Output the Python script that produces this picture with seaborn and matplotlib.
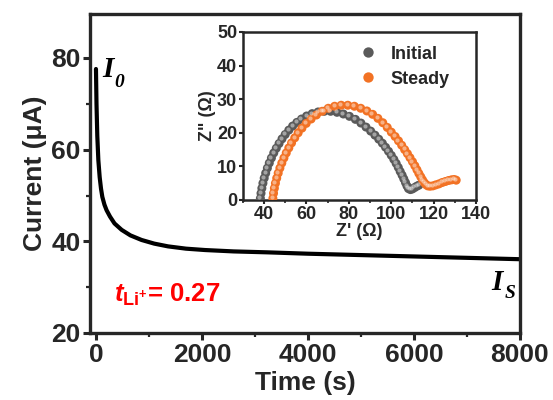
import matplotlib
matplotlib.use("Agg")
import matplotlib.pyplot as plt
import matplotlib.transforms as mtransforms
import seaborn as sns
import pandas as pd
from matplotlib.ticker import MultipleLocator

# ---- data ----
time_s = [0, 10, 25, 45, 70, 95, 120, 160, 200, 265, 350, 485, 650, 860, 1100,
          1360, 1700, 2060, 2600, 3230, 4000, 5000, 6000, 7000, 8000]
current_uA = [77.6, 70, 63, 57.7, 54, 51.5, 49.7, 48, 46.8, 45.4, 43.9, 42.5, 41.3,
              40.3, 39.5, 38.9, 38.4, 38.1, 37.8, 37.6, 37.3, 37.0, 36.7, 36.4, 36.1]

init_zre = [38.3, 38.6, 39.0, 39.5, 40.1, 40.8, 41.6, 42.5, 43.5, 44.6, 45.8, 47.1,
            48.5, 50.0, 51.7, 53.5, 55.5, 57.7, 60.1, 62.7, 65.5, 68.4, 71.4, 74.4,
            77.4, 80.3, 83.1, 85.7, 88.1, 90.3, 92.3, 94.1, 95.8, 97.3, 98.7, 100.0,
            101.2, 102.3, 103.3, 104.2, 105.1, 105.9, 106.7, 107.4, 108.1, 109.0,
            110.0, 111.0, 112.0, 113.0]
init_zim = [0.5, 2.0, 3.5, 5.0, 6.5, 8.0, 9.5, 11.0, 12.5, 14.0, 15.4, 16.8, 18.2,
            19.5, 20.8, 22.0, 23.1, 24.1, 25.0, 25.7, 26.2, 26.4, 26.4, 26.1, 25.6,
            24.9, 24.0, 22.9, 21.7, 20.5, 19.3, 18.1, 16.9, 15.7, 14.5, 13.3, 12.1,
            10.9, 9.7, 8.5, 7.4, 6.3, 5.2, 4.2, 3.4, 3.1, 3.3, 3.7, 4.1, 4.4]

steady_zre = [44.2, 44.5, 44.9, 45.4, 46.0, 46.7, 47.5, 48.4, 49.4, 50.5, 51.7, 53.0,
              54.5, 56.1, 57.9, 59.9, 62.2, 64.7, 67.4, 70.3, 73.3, 76.4, 79.5, 82.6,
              85.6, 88.5, 91.2, 93.7, 96.0, 98.1, 100.0, 101.8, 103.4, 104.9, 106.3,
              107.6, 108.8, 110.0, 111.1, 112.1, 113.0, 113.9, 114.7, 115.5, 116.3,
              117.2, 118.3, 119.6, 121.0, 122.5, 124.0, 125.5, 127.0, 128.4, 129.6,
              130.6]
steady_zim = [0.5, 2.0, 3.5, 5.0, 6.5, 8.0, 9.5, 11.0, 12.5, 14.0, 15.5, 17.0, 18.5,
              20.0, 21.4, 22.8, 24.1, 25.3, 26.4, 27.3, 27.9, 28.2, 28.2, 27.9, 27.3,
              26.5, 25.5, 24.3, 23.0, 21.6, 20.2, 18.9, 17.6, 16.3, 15.0, 13.8, 12.6,
              11.4, 10.2, 9.0, 7.9, 6.9, 6.0, 5.2, 4.6, 4.2, 4.1, 4.2, 4.5, 4.8, 5.2,
              5.5, 5.8, 6.0, 6.1, 5.9]

series_names = ["Initial", "Steady"]
series_colors = ["#5a5a5a", "#f27224"]

# ---- style ----
sns.set_style("ticks")
plt.rcParams["font.family"] = ["Liberation Sans", "DejaVu Sans"]
plt.rcParams["font.weight"] = "bold"
plt.rcParams["mathtext.fontset"] = "custom"
plt.rcParams["mathtext.it"] = "Liberation Sans:italic:bold"
plt.rcParams["mathtext.rm"] = "Liberation Sans:bold"
plt.rcParams["mathtext.bf"] = "Liberation Sans:bold"

fig = plt.figure(figsize=(5.53, 4.0), dpi=100)
ax = fig.add_axes([0.163, 0.1675, 0.777, 0.7975])

df_main = pd.DataFrame({"t": time_s, "I": current_uA})
sns.lineplot(data=df_main, x="t", y="I", ax=ax, color="black", lw=3.0)

ax.set_xlim(-110, 8000)
ax.set_ylim(20, 89.6)
ax.xaxis.set_major_locator(MultipleLocator(2000))
ax.xaxis.set_minor_locator(MultipleLocator(1000))
ax.yaxis.set_minor_locator(MultipleLocator(10))
ax.set_yticks([20, 40, 60, 80])
for s in ax.spines.values():
    s.set_linewidth(2.4)
    s.set_visible(True)
ax.tick_params(which="major", direction="out", length=5, width=2.2, labelsize=19, pad=2)
ax.tick_params(which="minor", direction="out", length=3, width=1.6)
for lab in ax.get_xticklabels() + ax.get_yticklabels():
    lab.set_fontweight("bold")
ax.set_xlabel("Time (s)", fontsize=19, fontweight="bold", labelpad=3)
ax.set_ylabel("Current (μA)", fontsize=19, fontweight="bold", labelpad=3)

serif = dict(family=["Liberation Serif", "DejaVu Serif"], style="italic",
             fontweight="bold", color="black")
ax.annotate("I", xy=(120, 77.4), fontsize=21, va="center", ha="left", **serif)
ax.annotate("0", xy=(120, 77.4), xytext=(9, -9), textcoords="offset points",
            fontsize=14, va="center", ha="left", **serif)
ax.annotate("I", xy=(7470, 31.0), fontsize=21, va="center", ha="left", **serif)
ax.annotate("S", xy=(7470, 31.0), xytext=(9, -8), textcoords="offset points",
            fontsize=14, va="center", ha="left", **serif)

ax.text(340, 28.3, r"$t_{\mathrm{Li^{+}}}$= 0.27", fontsize=18.5, color="#ff0000",
        fontweight="bold", va="center", ha="left")

# ---- inset ----
axin = fig.add_axes([0.439, 0.5, 0.422, 0.42])
df_eis = pd.concat([
    pd.DataFrame({"Zre": init_zre, "Zim": init_zim, "state": series_names[0]}),
    pd.DataFrame({"Zre": steady_zre, "Zim": steady_zim, "state": series_names[1]}),
])
sns.scatterplot(data=df_eis, x="Zre", y="Zim", hue="state", hue_order=series_names,
                palette=series_colors, ax=axin, s=42, edgecolor="none",
                linewidth=0, zorder=3)
# sphere-like highlight on each marker
hl = mtransforms.offset_copy(axin.transData, fig=fig, x=-0.8, y=0.8, units="points")
axin.scatter(df_eis["Zre"], df_eis["Zim"], s=9, color="white", alpha=0.45,
             linewidths=0, transform=hl, zorder=4)
axin.set_xlim(30, 140)
axin.set_ylim(0, 50)
axin.xaxis.set_minor_locator(MultipleLocator(10))
axin.set_xticks([40, 60, 80, 100, 120, 140])
axin.set_yticks([0, 10, 20, 30, 40, 50])
for s in axin.spines.values():
    s.set_linewidth(1.8)
axin.tick_params(which="major", direction="out", length=3, width=1.5, labelsize=13, pad=1)
axin.tick_params(which="minor", direction="out", length=2, width=1.2)
for lab in axin.get_xticklabels() + axin.get_yticklabels():
    lab.set_fontweight("bold")
axin.set_xlabel("Z' (Ω)", fontsize=13, fontweight="bold", labelpad=0)
axin.set_ylabel('Z" (Ω)', fontsize=13, fontweight="bold", labelpad=1)
leg = axin.legend(loc="upper left", bbox_to_anchor=(0.40, 1.0), frameon=False,
                  fontsize=13, handletextpad=0.25, labelspacing=0.45,
                  markerscale=1.15, borderaxespad=0.35)
for t in leg.get_texts():
    t.set_fontweight("bold")

fig.savefig("out.png", dpi=100)
